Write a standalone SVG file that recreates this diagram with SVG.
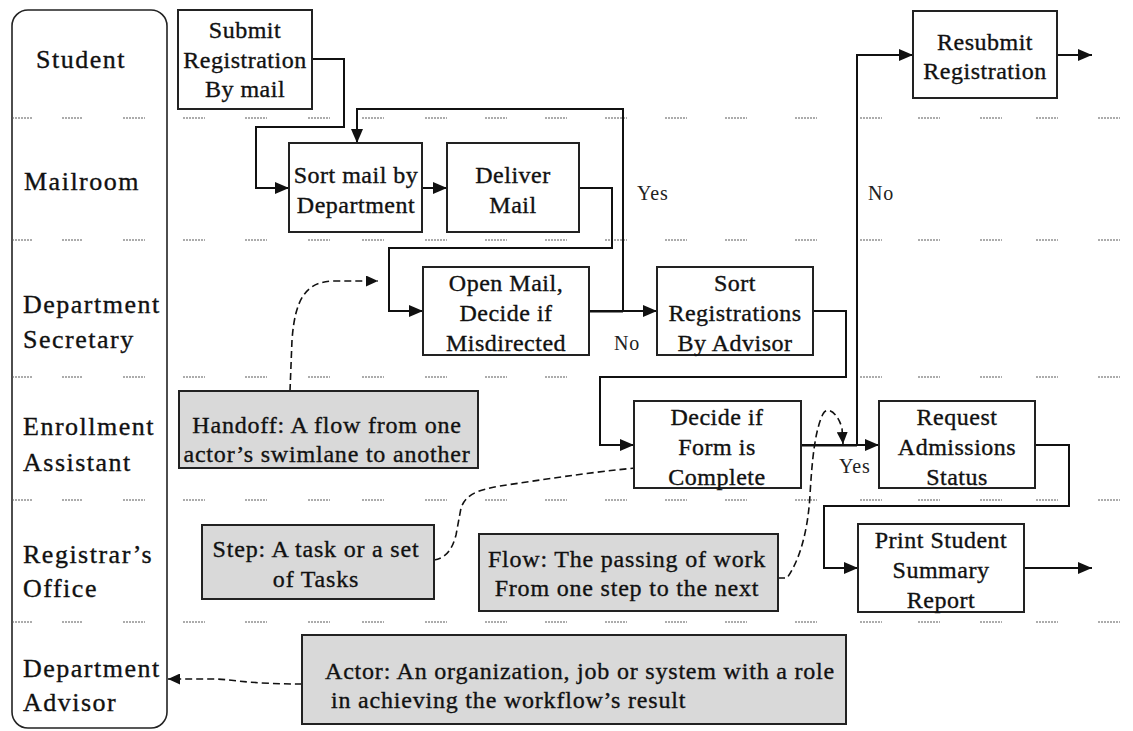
<svg xmlns="http://www.w3.org/2000/svg" width="1133" height="731" viewBox="0 0 1133 731">
  <defs>
    <marker id="arrow" markerUnits="userSpaceOnUse" markerWidth="15" markerHeight="12" refX="14" refY="6" orient="auto">
      <path d="M0,0 L14,6 L0,12 z" fill="#111"/>
    </marker>
    <marker id="arrow-sm" markerUnits="userSpaceOnUse" markerWidth="13" markerHeight="11" refX="12" refY="5.5" orient="auto">
      <path d="M0,0 L12,5.5 L0,11 z" fill="#111"/>
    </marker>
  </defs>
  <style>
    text { font-family: 'Liberation Serif', 'Times New Roman', serif; }
    .lane-sep { stroke: #5a5a5a; stroke-width: 1.2; stroke-dasharray: 2 1; fill: none; }
    .lanebox { fill: #fff; stroke: #222; stroke-width: 1.6; }
    .lane-label { font-size: 26px; letter-spacing: 1.5px; fill: #111; stroke: #111; stroke-width: 0.35; }
    .step rect { fill: #fff; stroke: #222; stroke-width: 2; }
    .step text { font-size: 24px; letter-spacing: 0.5px; fill: #111; stroke: #111; stroke-width: 0.35; text-anchor: middle; }
    .note rect { fill: #d9d9d9; stroke: #222; stroke-width: 2; }
    .note text { font-size: 24px; letter-spacing: 0.8px; fill: #111; stroke: #111; stroke-width: 0.35; }
    .flow { fill: none; stroke: #111; stroke-width: 2; marker-end: url(#arrow); }
    .flow-plain { fill: none; stroke: #111; stroke-width: 2; }
    .callout { fill: none; stroke: #111; stroke-width: 1.6; stroke-dasharray: 7 4; marker-end: url(#arrow-sm); }
    .branch { font-size: 20px; letter-spacing: 0.8px; fill: #222; }
  </style>

  <rect width="1133" height="731" fill="#fff"/>

  <!-- actor column -->
  <g id="actors">
    <rect class="lanebox" x="12" y="10" width="155" height="718" rx="16" ry="16"/>
    <text class="lane-label" x="36" y="68">Student</text>
    <text class="lane-label" x="24" y="190">Mailroom</text>
    <text class="lane-label" x="23" y="313">Department</text>
    <text class="lane-label" x="23" y="348">Secretary</text>
    <text class="lane-label" x="23" y="435">Enrollment</text>
    <text class="lane-label" x="23" y="471">Assistant</text>
    <text class="lane-label" x="23" y="563">Registrar’s</text>
    <text class="lane-label" x="23" y="597">Office</text>
    <text class="lane-label" x="23" y="677">Department</text>
    <text class="lane-label" x="23" y="711">Advisor</text>
  </g>

  <!-- swimlane separators: short dotted dashes repeated across the page -->
  <g id="lanes">
    <path class="lane-sep" transform="translate(0,118)" d="M12,0 h20 M62,0 h21 M123,0 h22 M183,0 h22 M245,0 h22 M308,0 h22 M362,0 h22 M425,0 h22 M485,0 h22 M545,0 h22 M605,0 h22 M665,0 h22 M725,0 h22 M795,0 h22 M860,0 h22 M918,0 h22 M980,0 h22 M1036,0 h22 M1098,0 h22"/>
    <path class="lane-sep" transform="translate(0,240)" d="M12,0 h20 M62,0 h21 M123,0 h22 M183,0 h22 M245,0 h22 M308,0 h22 M362,0 h22 M425,0 h22 M485,0 h22 M545,0 h22 M605,0 h22 M665,0 h22 M725,0 h22 M795,0 h22 M860,0 h22 M918,0 h22 M980,0 h22 M1036,0 h22 M1098,0 h22"/>
    <path class="lane-sep" transform="translate(0,377)" d="M12,0 h20 M62,0 h21 M123,0 h22 M183,0 h22 M245,0 h22 M308,0 h22 M362,0 h22 M425,0 h22 M485,0 h22 M545,0 h22 M605,0 h22 M665,0 h22 M725,0 h22 M795,0 h22 M860,0 h22 M918,0 h22 M980,0 h22 M1036,0 h22 M1098,0 h22"/>
    <path class="lane-sep" transform="translate(0,500)" d="M12,0 h20 M62,0 h21 M123,0 h22 M183,0 h22 M245,0 h22 M308,0 h22 M362,0 h22 M425,0 h22 M485,0 h22 M545,0 h22 M605,0 h22 M665,0 h22 M725,0 h22 M795,0 h22 M860,0 h22 M918,0 h22 M980,0 h22 M1036,0 h22 M1098,0 h22"/>
    <path class="lane-sep" transform="translate(0,622)" d="M12,0 h20 M62,0 h21 M123,0 h22 M183,0 h22 M245,0 h22 M308,0 h22 M362,0 h22 M425,0 h22 M485,0 h22 M545,0 h22 M605,0 h22 M665,0 h22 M725,0 h22 M795,0 h22 M860,0 h22 M918,0 h22 M980,0 h22 M1036,0 h22 M1098,0 h22"/>
  </g>

  <!-- flows between steps -->
  <g id="connectors">
    <path class="flow" d="M312,59 H344 V127 H256 V188 H289"/>
    <path class="flow" d="M422,188 H447"/>
    <path class="flow" d="M579,188 H612 V248 H389 V311 H423"/>
    <path class="flow" d="M589,311 H657"/>
    <path class="flow-plain" d="M589,311.5 H623" stroke-width="3"/>
    <path class="flow" d="M623,311 V109 H357 V143"/>
    <path class="flow" d="M813,311 H846 V377 H600 V445 H634"/>
    <path class="flow" d="M801,445 H879"/>
    <path class="flow-plain" d="M801,445.5 H857" stroke-width="3"/>
    <path class="flow" d="M857,445 V55 H913"/>
    <path class="flow" d="M1057,55 H1092"/>
    <path class="flow" d="M1035,445 H1069 V506 H824 V568 H858"/>
    <path class="flow" d="M1024,568 H1092"/>

    <!-- callout pointers -->
    <path class="callout" d="M290,391 L292,340 C295,300 305,281 335,281 L378,281"/>
    <path class="callout" d="M434,560 C446,558 452,550 456,535 L461,508 C466,494 478,490 500,486 C540,480 590,472 646,467"/>
    <path class="callout" d="M778,578 L787,578 C800,560 808,530 810,495 C812,460 815,430 823,414 C828,405 838,414 842,428 L843,444"/>
    <path class="callout" d="M302,684 C245,684 232,679 212,679 L168,679"/>

    <text class="branch" x="637" y="200">Yes</text>
    <text class="branch" x="614" y="350">No</text>
    <text class="branch" x="868" y="200">No</text>
    <text class="branch" x="839" y="473">Yes</text>
  </g>

  <!-- steps -->
  <g id="submit-registration" class="step">
    <rect x="178" y="10" width="134" height="99"/>
    <text x="245" y="38">Submit</text>
    <text x="245" y="68">Registration</text>
    <text x="245" y="97">By mail</text>
  </g>
  <g id="sort-mail" class="step">
    <rect x="289" y="143" width="133" height="89"/>
    <text x="356" y="183">Sort mail by</text>
    <text x="356" y="213">Department</text>
  </g>
  <g id="deliver-mail" class="step">
    <rect x="447" y="143" width="132" height="89"/>
    <text x="513" y="183">Deliver</text>
    <text x="513" y="213">Mail</text>
  </g>
  <g id="resubmit-registration" class="step">
    <rect x="913" y="11" width="144" height="87"/>
    <text x="985" y="50">Resubmit</text>
    <text x="985" y="79">Registration</text>
  </g>
  <g id="open-mail" class="step">
    <rect x="423" y="267" width="166" height="88"/>
    <text x="506" y="291">Open Mail,</text>
    <text x="506" y="321">Decide if</text>
    <text x="506" y="351">Misdirected</text>
  </g>
  <g id="sort-registrations" class="step">
    <rect x="657" y="267" width="156" height="88"/>
    <text x="735" y="291">Sort</text>
    <text x="735" y="321">Registrations</text>
    <text x="735" y="351">By Advisor</text>
  </g>
  <g id="decide-complete" class="step">
    <rect x="634" y="401" width="167" height="87"/>
    <text x="717" y="425">Decide if</text>
    <text x="717" y="455">Form is</text>
    <text x="717" y="485">Complete</text>
  </g>
  <g id="request-admissions" class="step">
    <rect x="879" y="401" width="156" height="87"/>
    <text x="957" y="425">Request</text>
    <text x="957" y="455">Admissions</text>
    <text x="957" y="485">Status</text>
  </g>
  <g id="print-summary" class="step">
    <rect x="858" y="524" width="166" height="88"/>
    <text x="941" y="548">Print Student</text>
    <text x="941" y="578">Summary</text>
    <text x="941" y="608">Report</text>
  </g>

  <!-- legend notes -->
  <g id="note-handoff" class="note">
    <rect x="179" y="391" width="299" height="77"/>
    <text x="327" y="433" text-anchor="middle">Handoff: A flow from one</text>
    <text x="327" y="462" text-anchor="middle">actor’s swimlane to another</text>
  </g>
  <g id="note-step" class="note">
    <rect x="202" y="525" width="232" height="74"/>
    <text x="316" y="557" text-anchor="middle">Step: A task or a set</text>
    <text x="316" y="587" text-anchor="middle">of Tasks</text>
  </g>
  <g id="note-flow" class="note">
    <rect x="479" y="534" width="299" height="77"/>
    <text x="627" y="567" text-anchor="middle">Flow: The passing of work</text>
    <text x="627" y="596" text-anchor="middle">From one step to the next</text>
  </g>
  <g id="note-actor" class="note">
    <rect x="302" y="635" width="544" height="89"/>
    <text x="325" y="679">Actor: An organization, job or system with a role</text>
    <text x="331" y="708">in achieving the workflow’s result</text>
  </g>
</svg>
